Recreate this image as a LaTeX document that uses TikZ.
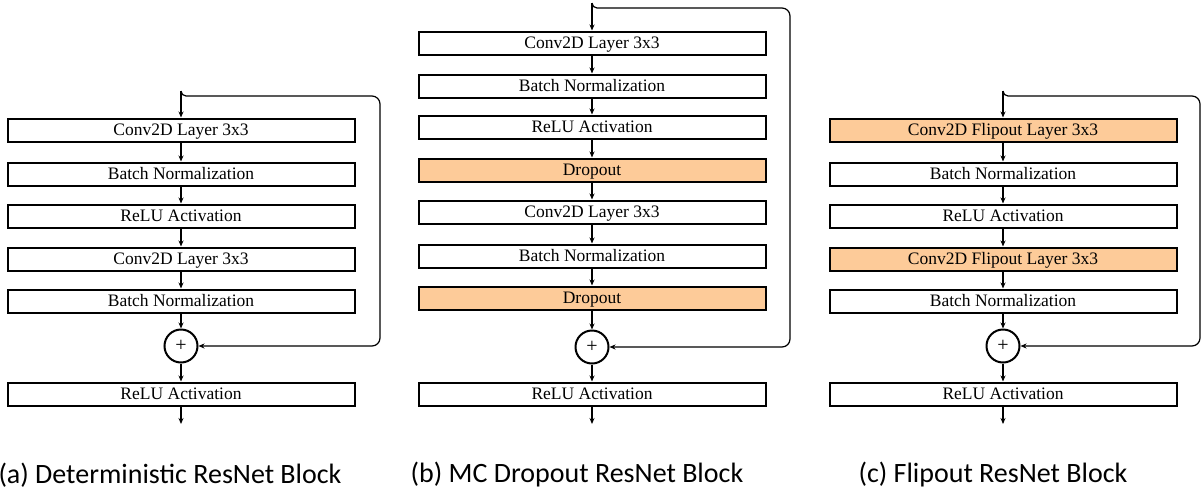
\documentclass[tikz,border=0pt]{standalone}
\usepackage{fontspec}
\setmainfont{Liberation Serif}
\newfontfamily\capfont{Carlito}
\usepackage{tikz}
\usetikzlibrary{shapes,arrows.meta,calc,positioning}
\definecolor{bayesorange}{RGB}{253,203,153}
\tikzstyle{arrow} = [line width=1.2pt, -{Stealth[length=6pt,width=5pt]}]
\tikzstyle{layer} = [draw, line width=2pt, minimum width=347pt, minimum height=23pt, inner sep=0pt, text height=12pt, text depth=2pt, font=\fontsize{17.5}{20}\selectfont]
\tikzstyle{bayes} = [layer, fill=bayesorange]
\tikzstyle{add} = [draw, circle, line width=2pt, minimum size=33pt, inner sep=0pt, font=\fontsize{20}{20}\selectfont]
\tikzstyle{skip} = [line width=1.2pt, -{Stealth[length=6pt,width=5pt]}]
\tikzstyle{caption} = [font=\capfont\fontsize{28}{30}\selectfont]

\begin{document}
\begin{tikzpicture}[x=1pt,y=-1pt]
\useasboundingbox (0,0) rectangle (1204,490);

% (a) deterministic
\coordinate (inA) at (181,91);
\node[layer] (convA1) at (181,130) {Conv2D Layer 3x3};
\node[layer] (bnA1)   at (181,174) {Batch Normalization};
\node[layer] (reluA1) at (181,216) {ReLU Activation};
\node[layer] (convA2) at (181,259) {Conv2D Layer 3x3};
\node[layer] (bnA2)   at (181,301) {Batch Normalization};
\node[add]   (addA)   at (181,346) {+};
\node[layer] (reluA2) at (181,394) {ReLU Activation};
\coordinate (outA) at (181,424);
\draw[arrow] (inA) -- (convA1);
\draw[arrow] (convA1) -- (bnA1);
\draw[arrow] (bnA1) -- (reluA1);
\draw[arrow] (reluA1) -- (convA2);
\draw[arrow] (convA2) -- (bnA2);
\draw[arrow] (bnA2) -- (addA);
\draw[arrow] (addA) -- (reluA2);
\draw[arrow] (reluA2) -- (outA);
\draw[skip] [rounded corners=5pt] (inA) -- ++(0,5) [rounded corners=8pt] -- (380,96) -- (380,346) -- (addA.east);
\node[caption] (capA) at (170,475) {(a) Deterministic ResNet Block};

% (b) mc dropout
\coordinate (inB) at (592,3);
\node[layer] (convB1) at (592,43)  {Conv2D Layer 3x3};
\node[layer] (bnB1)   at (592,86)  {Batch Normalization};
\node[layer] (reluB1) at (592,127) {ReLU Activation};
\node[bayes] (dropB1) at (592,170) {Dropout};
\node[layer] (convB2) at (592,212) {Conv2D Layer 3x3};
\node[layer] (bnB2)   at (592,256) {Batch Normalization};
\node[bayes] (dropB2) at (592,298) {Dropout};
\node[add]   (addB)   at (592,347) {+};
\node[layer] (reluB2) at (592,394) {ReLU Activation};
\coordinate (outB) at (592,424);
\draw[arrow] (inB) -- (convB1);
\draw[arrow] (convB1) -- (bnB1);
\draw[arrow] (bnB1) -- (reluB1);
\draw[arrow] (reluB1) -- (dropB1);
\draw[arrow] (dropB1) -- (convB2);
\draw[arrow] (convB2) -- (bnB2);
\draw[arrow] (bnB2) -- (dropB2);
\draw[arrow] (dropB2) -- (addB);
\draw[arrow] (addB) -- (reluB2);
\draw[arrow] (reluB2) -- (outB);
\draw[skip] [rounded corners=5pt] (inB) -- ++(0,5) [rounded corners=8pt] -- (790,8) -- (790,347) -- (addB.east);
\node[caption] (capB) at (577,475) {(b) MC Dropout ResNet Block};

% (c) flipout
\coordinate (inC) at (1003,91);
\node[bayes] (convC1) at (1003,130) {Conv2D Flipout Layer 3x3};
\node[layer] (bnC1)   at (1003,174) {Batch Normalization};
\node[layer] (reluC1) at (1003,216) {ReLU Activation};
\node[bayes] (convC2) at (1003,259) {Conv2D Flipout Layer 3x3};
\node[layer] (bnC2)   at (1003,301) {Batch Normalization};
\node[add]   (addC)   at (1003,346) {+};
\node[layer] (reluC2) at (1003,394) {ReLU Activation};
\coordinate (outC) at (1003,424);
\draw[arrow] (inC) -- (convC1);
\draw[arrow] (convC1) -- (bnC1);
\draw[arrow] (bnC1) -- (reluC1);
\draw[arrow] (reluC1) -- (convC2);
\draw[arrow] (convC2) -- (bnC2);
\draw[arrow] (bnC2) -- (addC);
\draw[arrow] (addC) -- (reluC2);
\draw[arrow] (reluC2) -- (outC);
\draw[skip] [rounded corners=5pt] (inC) -- ++(0,5) [rounded corners=8pt] -- (1200,96) -- (1200,346) -- (addC.east);
\node[caption] (capC) at (993,475) {(c) Flipout ResNet Block};

\end{tikzpicture}
\end{document}
